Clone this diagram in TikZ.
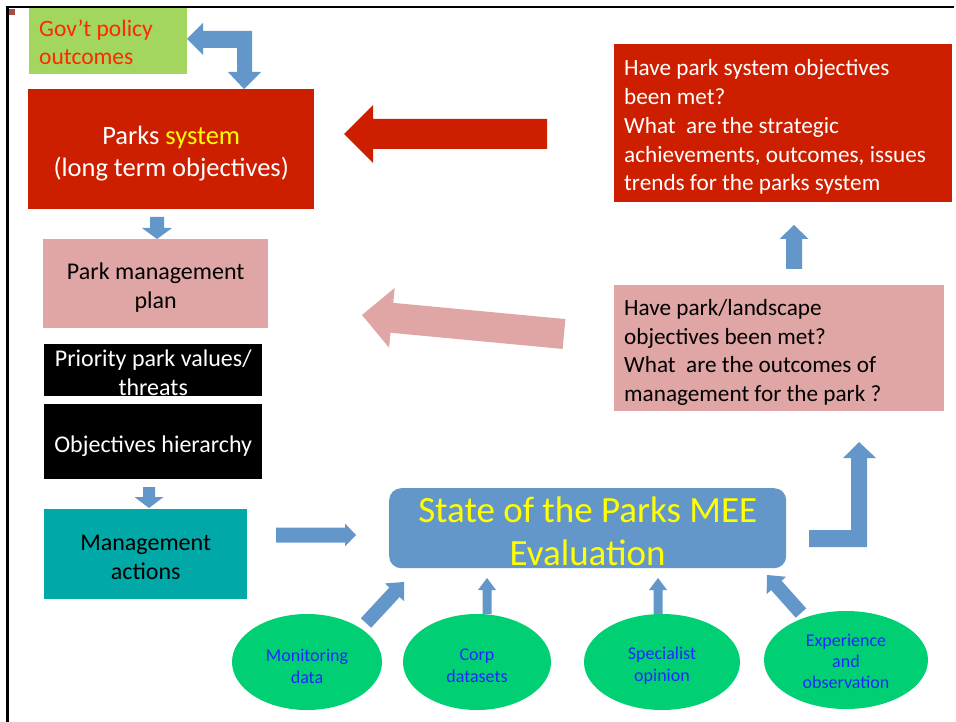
\documentclass[tikz,border=0pt]{standalone}
\usepackage{fontspec}
\setmainfont{Carlito}
\usetikzlibrary{calc,shapes.geometric}
\definecolor{redbox}{RGB}{205,31,0}
\definecolor{pinkbox}{RGB}{224,166,165}
\definecolor{govgreen}{RGB}{163,214,95}
\definecolor{govred}{RGB}{255,40,0}
\definecolor{arrowblue}{RGB}{99,151,201}
\definecolor{tealbox}{RGB}{0,168,168}
\definecolor{ellgreen}{RGB}{0,208,115}
\definecolor{elltext}{RGB}{30,40,255}
\definecolor{yel}{RGB}{255,255,0}
\definecolor{marker}{RGB}{168,76,76}
\newcommand\blkarrow[6]{%
  \coordinate (bkH) at ($(#3)!#6!(#2)$);
  \fill[#1] ($(#2)!#4!90:(#3)$) -- ($(bkH)!#4!-90:(#2)$) -- ($(bkH)!#5!-90:(#2)$) -- (#3)
    -- ($(bkH)!#5!90:(#2)$) -- ($(bkH)!#4!90:(#2)$) -- ($(#2)!#4!-90:(#3)$) -- cycle;}
\begin{document}
\begin{tikzpicture}[x=1pt,y=-1pt,
  box/.style={anchor=north west, inner sep=0pt},
  txt/.style={inner sep=0pt, align=center},
  mid/.style={font=\fontsize{24}{29}\selectfont},
  lefttext/.style={anchor=west, inner sep=0pt, align=left},
  ell/.style={ellipse, fill=ellgreen, inner sep=0pt},
  elltxt/.style={inner sep=0pt, align=center, text=elltext, font=\fontsize{18}{22}\selectfont}]
\fill[white] (0,0) rectangle (956,722);
\useasboundingbox (0,0) rectangle (956,722);
% frame
\draw[line width=2pt] (6,7) -- (954,7);
\draw[line width=2.6pt] (7.3,7) -- (7.3,722);
\fill[marker] (9,9) rectangle (15,15);

% boxes
\node[box, fill=govgreen, minimum width=158pt, minimum height=66pt] (gov) at (29,8) {};
\node[lefttext, text=govred, font=\fontsize{23.5}{28}\selectfont]
  (govt) at ($(gov.west)+(10,1)$) {Gov’t policy\\outcomes};
\node[box, fill=redbox, minimum width=286pt, minimum height=120pt] (parks) at (28,89) {};
\node[txt, text=white, font=\fontsize{26.5}{32}\selectfont]
  (parkst) at ($(parks.center)+(0,4)$) {Parks {\color{yel}system}\\(long term objectives)};
\node[box, fill=pinkbox, minimum width=225pt, minimum height=89pt] (pmp) at (43,239) {};
\node[txt, mid] (pmpt) at ($(pmp.center)+(0,4)$) {Park management\\plan};
\node[box, fill=black, minimum width=218pt, minimum height=52pt] (prio) at (44,344) {};
\node[txt, mid, text=white] (priot) at ($(prio.center)+(0,2.5)$) {Priority park values/\\threats};
\node[box, fill=black, minimum width=218pt, minimum height=75pt] (obj) at (44,404) {};
\node[txt, mid, text=white] (objt) at ($(obj.center)+(0,5)$) {Objectives hierarchy};
\node[box, fill=tealbox, minimum width=203pt, minimum height=90pt] (mgmt) at (44,509) {};
\node[txt, mid] (mgmtt) at ($(mgmt.center)+(0,3.5)$) {Management\\actions};
\node[box, fill=arrowblue, rounded corners=12pt, minimum width=397pt, minimum height=80pt]
  (eval) at (389,488) {};
\node[txt, text=yel, font=\fontsize{37}{43}\selectfont]
  (evalt) at ($(eval.center)+(0,3)$) {State of the Parks MEE\\Evaluation};
\node[box, fill=redbox, minimum width=338pt, minimum height=158pt] (sysq) at (614,44) {};
\node[lefttext, text=white, font=\fontsize{23.2}{28.8}\selectfont]
  (sysqt) at ($(sysq.west)+(10,4)$)
  {Have park system objectives\\been met?\\What\ \ are the strategic\\achievements, outcomes, issues\\trends for the parks system};
\node[box, fill=pinkbox, minimum width=330pt, minimum height=126pt] (parkq) at (614,285) {};
\node[lefttext, font=\fontsize{23.2}{28.5}\selectfont]
  (parkqt) at ($(parkq.west)+(10,4)$)
  {Have park/landscape\\objectives been met?\\What\ \ are the outcomes of\\management for the park ?};

% ellipses
\node[ell, minimum width=150pt, minimum height=96pt] (mon) at (307,662) {};
\node[elltxt] (mont) at ($(mon.center)+(0,4)$) {Monitoring\\data};
\node[ell, minimum width=148pt, minimum height=96pt] (corp) at (477,662) {};
\node[elltxt] (corpt) at ($(corp.center)+(0,4)$) {Corp\\datasets};
\node[ell, minimum width=156pt, minimum height=96pt] (spec) at (662,662) {};
\node[elltxt] (spect) at ($(spec.center)+(0,4)$) {Specialist\\opinion};
\node[ell, minimum width=164pt, minimum height=98pt] (exp) at (846,660) {};
\node[elltxt, font=\fontsize{18}{21}\selectfont] (expt) at ($(exp.center)+(0,1.5)$) {Experience\\and\\observation};

% connector end points
\coordinate (g1) at (187,39);
\coordinate (p1) at (244,89);
\coordinate (ra) at (547,134);  \coordinate (rb) at (344,134);
\coordinate (pa) at (564,334);  \coordinate (pb) at (362,315);
\coordinate (da) at (157,217);  \coordinate (db) at (157,239);
\coordinate (ma) at (149,487);  \coordinate (mb) at (149,508);
\coordinate (ea) at (276,535);  \coordinate (eb) at (356,535);
\coordinate (ua) at (794,269);  \coordinate (ub) at (794,225);
\coordinate (m1) at (366,623);  \coordinate (m2) at (404,582);
\coordinate (c1) at (487,614);  \coordinate (c2) at (487,578);
\coordinate (s1) at (658,614);  \coordinate (s2) at (658,578);
\coordinate (x1) at (801,613);  \coordinate (x2) at (767,575);

% bent double arrow gov <-> parks
\fill[arrowblue] (g1) -- (203,23) -- (203,31) -- (252,31) -- (252,72) -- (261,72) -- (p1)
  -- (228,72) -- (237,72) -- (237,48) -- (203,48) -- (203,55) -- cycle;
% bent arrow eval -> parkq
\fill[arrowblue] (809,530) -- (851,530) -- (851,458) -- (843,458) -- (859,442) -- (876,458)
  -- (867,458) -- (867,547) -- (809,547) -- cycle;

\blkarrow{redbox}{ra}{rb}{15pt}{29pt}{29pt}
\blkarrow{pinkbox}{pa}{pb}{15pt}{30pt}{30pt}
\blkarrow{arrowblue}{da}{db}{7pt}{15pt}{11pt}
\blkarrow{arrowblue}{ma}{mb}{6pt}{14.5pt}{11pt}
\blkarrow{arrowblue}{ea}{eb}{7.5pt}{11.5pt}{11pt}
\blkarrow{arrowblue}{ua}{ub}{8pt}{14.5pt}{14pt}
\blkarrow{arrowblue}{m1}{m2}{7pt}{13pt}{14pt}
\blkarrow{arrowblue}{c1}{c2}{4.5pt}{9pt}{12pt}
\blkarrow{arrowblue}{s1}{s2}{4.5pt}{9pt}{12pt}
\blkarrow{arrowblue}{x1}{x2}{7pt}{13pt}{14pt}
\end{tikzpicture}
\end{document}
